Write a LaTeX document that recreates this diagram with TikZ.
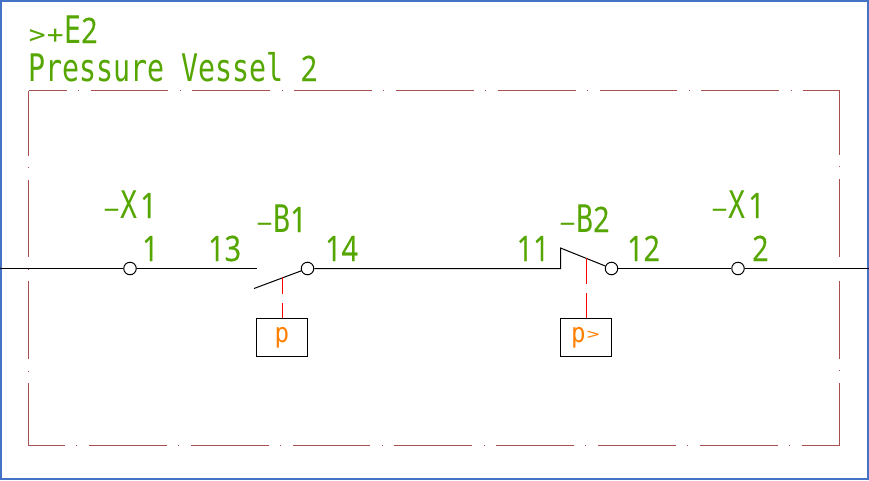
\documentclass[tikz,border=0pt]{standalone}
\usepackage{fontspec}
\setmainfont[FakeStretch=0.745]{DejaVu Sans Mono}
\newfontfamily\pinfont[FakeStretch=0.82,FakeBold=0.5]{Open Sans}
\usepackage{xcolor}
\usepackage{graphicx}
\usetikzlibrary{positioning,calc}
\definecolor{TagGreen}{RGB}{85,166,0}
\definecolor{FrameRed}{RGB}{168,80,80}
\definecolor{EdgeBlue}{RGB}{68,114,196}
\definecolor{SensOrange}{RGB}{255,128,0}
\newcommand{\pin}[1]{{\pinfont\fontsize{35}{35}\selectfont #1}}
\newcommand{\dashsym}{\makebox[17pt]{\fontsize{30}{30}\selectfont –}}
\newcommand{\smallsym}[1]{\makebox[18pt]{\scalebox{1.5}[1]{\fontsize{25}{25}\selectfont #1}}}
\newcommand{\sensp}{\raisebox{-3pt}{\scalebox{1.2}[1]{p}}}

\begin{document}
\begin{tikzpicture}[
		x=1pt, y=-1pt,
		tag/.style={anchor=base west, inner sep=0pt, text=TagGreen, font=\fontsize{38}{38}\selectfont},
		frameline/.style={draw=FrameRed, line width=1pt, dash pattern=on 77.8pt off 11.5pt on 1pt off 11.5pt},
		wire/.style={draw=black, line width=1pt},
		term/.style={draw=black, line width=1pt, circle, fill=white, minimum size=12.5pt, inner sep=0pt},
		sensor/.style={draw=black, line width=1pt, minimum width=51pt, minimum height=38pt, inner sep=0pt, text=SensOrange, font=\fontsize{27}{27}\selectfont},
		link/.style={draw=red, line width=1pt}
		]
		\useasboundingbox (0,0) rectangle (869,480);
		
		% ===== outer edge =====
		\draw[EdgeBlue, line width=2pt] (1,1) rectangle (868,479);
		
		% ===== dashed frame =====
		\coordinate (NW) at (28.5,90.5);
		\coordinate (NE) at (839.5,90.5);
		\coordinate (SE) at (839.5,445.5);
		\coordinate (SW) at (28.5,445.5);
		\draw[frameline, dash phase=39.8pt] (NW) -- (NE);
		\draw[frameline, dash phase=39.8pt] (SE) -- (SW);
		\draw[frameline, dash phase=12.8pt] (NW) -- (SW);
		\draw[frameline, dash phase=14.8pt] (SE) -- (NE);
		
		% ===== terminals and contacts =====
		\node[term] (X1a) at (130,268.5) {};
		\node[term] (B1c) at (307.5,268.5) {};
		\node[term] (B2c) at (611.5,268.5) {};
		\node[term] (X1b) at (738,268.5) {};
		
		% ===== sensors =====
		\node[sensor] (B1p) at (282,337.5) {\sensp};
		\node[sensor] (B2p) at (586,337.5) {\sensp\makebox[15pt]{\scalebox{1.9}[1]{\fontsize{15}{15}\selectfont >}}};
		
		% ===== wires =====
		\coordinate (inL) at (0,268.5);
		\coordinate (inR) at (869,268.5);
		\coordinate (B1a) at (257,268.5);
		\coordinate (B1t) at (254,288.5);
		\coordinate (B2a) at (560.5,268.5);
		\coordinate (B2t) at (560.5,248);
		\draw[wire] (inL) -- (X1a);
		\draw[wire] (X1a) -- (B1a);
		\draw[wire] (B1t) -- (B1c);
		\draw[wire] (B1c) -- (B2a) -- (B2t) -- (B2c);
		\draw[wire] (B2c) -- (X1b);
		\draw[wire] (X1b) -- (inR);
		
		% ===== actuator links =====
		\coordinate (B1m) at (282.5,277);
		\coordinate (B2m) at (586.5,258);
		\draw[link] (B1m) -- ++(0,17);
		\draw[link] (B1m |- B1p.north) -- ++(0,-15);
		\draw[link] (B2m) -- ++(0,26);
		\draw[link] (B2m |- B2p.north) -- ++(0,-25);
		
		% ===== labels =====
		\node[tag] (head1) at (28,43) {\smallsym{>}\smallsym{+}E\pin{2}};
		\node[tag] (head2) at (28,81) {Pressure Vessel \pin{2}};
		\foreach \t/\n/\x/\y [count=\i from 1] in {X\kern3pt/1/103/218, B/1/256/232, B/2/559/232, X\kern3pt/1/711/218}{
			\node[tag] (tag\i) at (\x,\y) {\dashsym\t\pin{\n}};
		}
		\foreach \t/\x [count=\i from 1] in {1/142, 13/208, 14/325, 11/516.5, 12/627, 2/752}{
			\node[tag] (pin\i) at (\x,261) {\pin{\t}};
		}
		
	\end{tikzpicture}
\end{document}
